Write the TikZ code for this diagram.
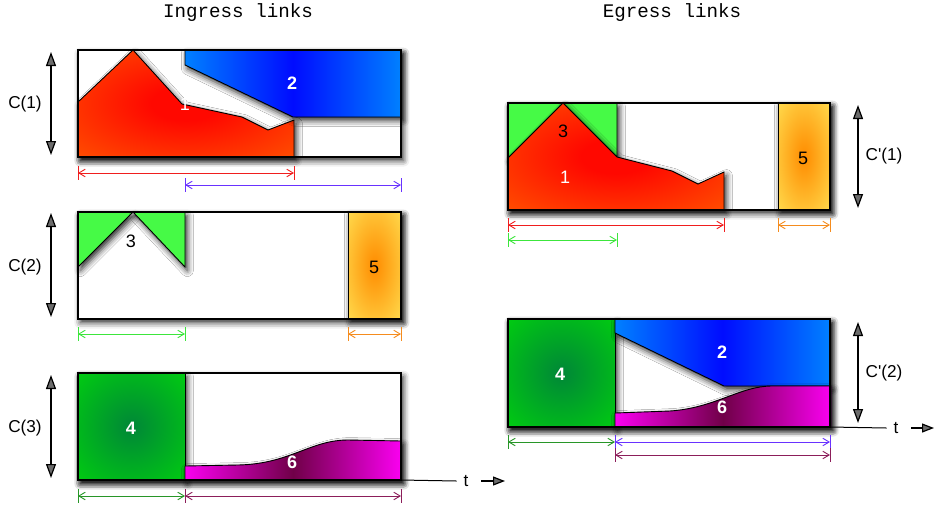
\documentclass[tikz,border=0pt]{standalone}
\usepackage{fontspec}
\setmainfont{Liberation Sans}
\setmonofont{Liberation Mono}
\usetikzlibrary{arrows.meta,shadows.blur}

\definecolor{redhot}{RGB}{255,8,0}
\definecolor{redrim}{RGB}{255,118,0}
\definecolor{bluedeep}{RGB}{0,12,255}
\definecolor{bluerim}{RGB}{0,128,255}
\definecolor{greenlite}{RGB}{70,250,70}
\definecolor{greendark}{RGB}{0,135,55}
\definecolor{greenrim}{RGB}{0,235,0}
\definecolor{amber}{RGB}{255,140,0}
\definecolor{yellowrim}{RGB}{255,232,90}
\definecolor{magrim}{RGB}{250,0,240}
\definecolor{magdark}{RGB}{112,0,72}
\definecolor{dimred}{RGB}{240,30,30}
\definecolor{dimblue}{RGB}{105,50,255}
\definecolor{dimgreen}{RGB}{60,230,60}
\definecolor{dimorange}{RGB}{245,140,30}
\definecolor{dimdkgreen}{RGB}{40,150,40}
\definecolor{dimplum}{RGB}{140,30,90}

\pgfdeclareradialshading{fireglow}{\pgfpoint{0bp}{0bp}}{color(0bp)=(redhot);
  color(8bp)=(redhot); color(52bp)=(redrim); color(72bp)=(redrim)}
\pgfdeclareradialshading{amberglow}{\pgfpoint{0bp}{0bp}}{color(0bp)=(amber);
  color(42bp)=(yellowrim); color(72bp)=(yellowrim)}
\pgfdeclareradialshading{leafglow}{\pgfpoint{0bp}{0bp}}{color(0bp)=(greendark);
  color(52bp)=(greenrim); color(72bp)=(greenrim)}

\begin{document}
\begin{tikzpicture}[
  x=0.5pt, y=-0.5pt,
  soft/.style={blur shadow={shadow xshift=1.2pt, shadow yshift=-1.8pt,
    shadow blur radius=3pt, shadow opacity=85}},
  link/.style={soft, fill=white},
  frame/.style={draw=black, line width=0.7pt},
  flow/.style={soft, draw=black, line width=0.45pt},
  bluefill/.style={left color=bluerim, right color=bluerim, middle color=bluedeep},
  magfill/.style={left color=magrim, right color=magrim, middle color=magdark},
  dim/.style={line width=0.45pt,
    {Straight Barb[length=3.2pt,width=3.8pt]}-{Straight Barb[length=3.2pt,width=3.8pt]}},
  capline/.style={line width=0.6pt,
    {Triangle[length=7pt,width=5pt]}-{Triangle[length=7pt,width=5pt]}},
  title/.style={font=\ttfamily\fontsize{9.6}{11}\selectfont},
  caplabel/.style={font=\fontsize{8.6}{10}\selectfont},
  num/.style={font=\fontsize{9}{10}\selectfont},
  numw/.style={num, text=white, font=\bfseries\fontsize{9}{10}\selectfont},
]
\useasboundingbox (0,0) rectangle (935,509);

% titles
\node[title] (ingress) at (238,13) {Ingress links};
\node[title] (egress) at (672,13) {Egress links};

% ---- ingress link 1
\path[link] (78,50) rectangle (401,157);
\path[flow, shading=fireglow]
  (78,102) -- (133,50) -- (182,104) -- (242,117) -- (268,130) -- (294,120)
  -- (294,157) -- (78,157) -- cycle;
\path[flow, bluefill]
  (185,50) -- (185,65) -- (293,117) -- (401,117) -- (401,50) -- cycle;
\draw[frame] (78,50) rectangle (401,157);
\node[num, text=white] (in1) at (185,104) {1};
\node[numw] (in2) at (292,83) {2};

% ---- ingress link 2
\path[link] (78,212) rectangle (401,319);
\path[flow, fill=greenlite] (78,212) -- (133,212) -- (78,267) -- cycle;
\path[flow, fill=greenlite] (133,212) -- (185,212) -- (185,267) -- cycle;
\path[flow, shading=amberglow] (348,212) rectangle (401,319);
\draw[frame] (78,212) rectangle (401,319);
\node[num] (in3) at (131,241) {3};
\node[num] (in5) at (374,267) {5};

% ---- ingress link 3
\path[link] (78,373) rectangle (401,480);
\path[flow, shading=leafglow] (78,373) rectangle (185,480);
\path[flow, magfill]
  (185,480) -- (185,466) -- (238,465) .. controls (290,464) and (310,440) .. (348,440)
  -- (401,441) -- (401,480) -- cycle;
\draw[frame] (78,373) rectangle (401,480);
\node[numw] (in4) at (131,428) {4};
\node[numw] (in6) at (292,462) {6};

% ---- egress link 1
\path[link] (508,103) rectangle (830,210);
\path[flow, fill=greenlite] (508,103) -- (563,103) -- (508,158) -- cycle;
\path[flow, fill=greenlite] (563,103) -- (617,103) -- (617,157) -- cycle;
\path[flow, shading=fireglow]
  (508,158) -- (563,103) -- (617,157) -- (672,171) -- (698,184) -- (724,172)
  -- (724,210) -- (508,210) -- cycle;
\path[flow, shading=amberglow] (778,103) rectangle (830,210);
\draw[frame] (508,103) rectangle (830,210);
\node[num] (out3) at (563,131) {3};
\node[num, text=white] (out1) at (565,177) {1};
\node[num] (out5) at (803,158) {5};

% ---- egress link 2
\path[link] (508,319) rectangle (830,427);
\path[flow, shading=leafglow] (508,319) rectangle (615,427);
\path[flow, bluefill]
  (615,319) -- (615,333) -- (724,386) -- (830,386) -- (830,319) -- cycle;
\path[flow, magfill]
  (615,427) -- (615,413) -- (670,411) .. controls (715,408) and (740,386) .. (772,386)
  -- (831,386) -- (831,427) -- cycle;
\draw[frame] (508,319) rectangle (830,427);
\node[numw] (out4) at (560,374) {4};
\node[numw] (out2) at (722,352) {2};
\node[numw] (out6) at (722,407) {6};

% capacities
\foreach \xx/\ya/\yb in {51/52/155, 51/213/317, 51/375/478, 858/105/208, 858/322/423}
  \draw[capline] (\xx,\ya) -- (\xx,\yb);
\node[caplabel] (c1) at (25,104) {C(1)};
\node[caplabel] (c2) at (25,267) {C(2)};
\node[caplabel] (c3) at (25,428) {C(3)};
\node[caplabel] (cp1) at (884,156) {C\textquotesingle(1)};
\node[caplabel] (cp2) at (884,373) {C\textquotesingle(2)};

% time axes
\node[caplabel] (t1) at (466,481) {t};
\node[caplabel] (t2) at (896,428) {t};
\draw[line width=0.5pt] (401,480) -- (t1.west);
\draw[line width=0.5pt] (830,427) -- (t2.west);
\draw[line width=0.6pt, -{Triangle[length=6pt,width=4.5pt]}] (t1.east) ++(6,0) -- (505,481);
\draw[line width=0.6pt, -{Triangle[length=6pt,width=4.5pt]}] (t2.east) ++(6,0) -- (934,428);

% durations
\foreach \xa/\xb/\yy/\cc in {78/294/173/dimred, 185/401/185/dimblue,
    78/185/334/dimgreen, 348/401/334/dimorange, 78/185/496/dimdkgreen,
    185/401/496/dimplum, 508/724/225/dimred, 778/830/225/dimorange,
    508/617/240/dimgreen, 508/615/442/dimdkgreen, 615/830/442/dimblue,
    615/830/455/dimplum}
{
  \draw[dim, \cc] (\xa,\yy) -- (\xb,\yy);
  \draw[\cc, line width=0.45pt] (\xa,\yy-7) -- (\xa,\yy+7) (\xb,\yy-7) -- (\xb,\yy+7);
}
\end{tikzpicture}
\end{document}
